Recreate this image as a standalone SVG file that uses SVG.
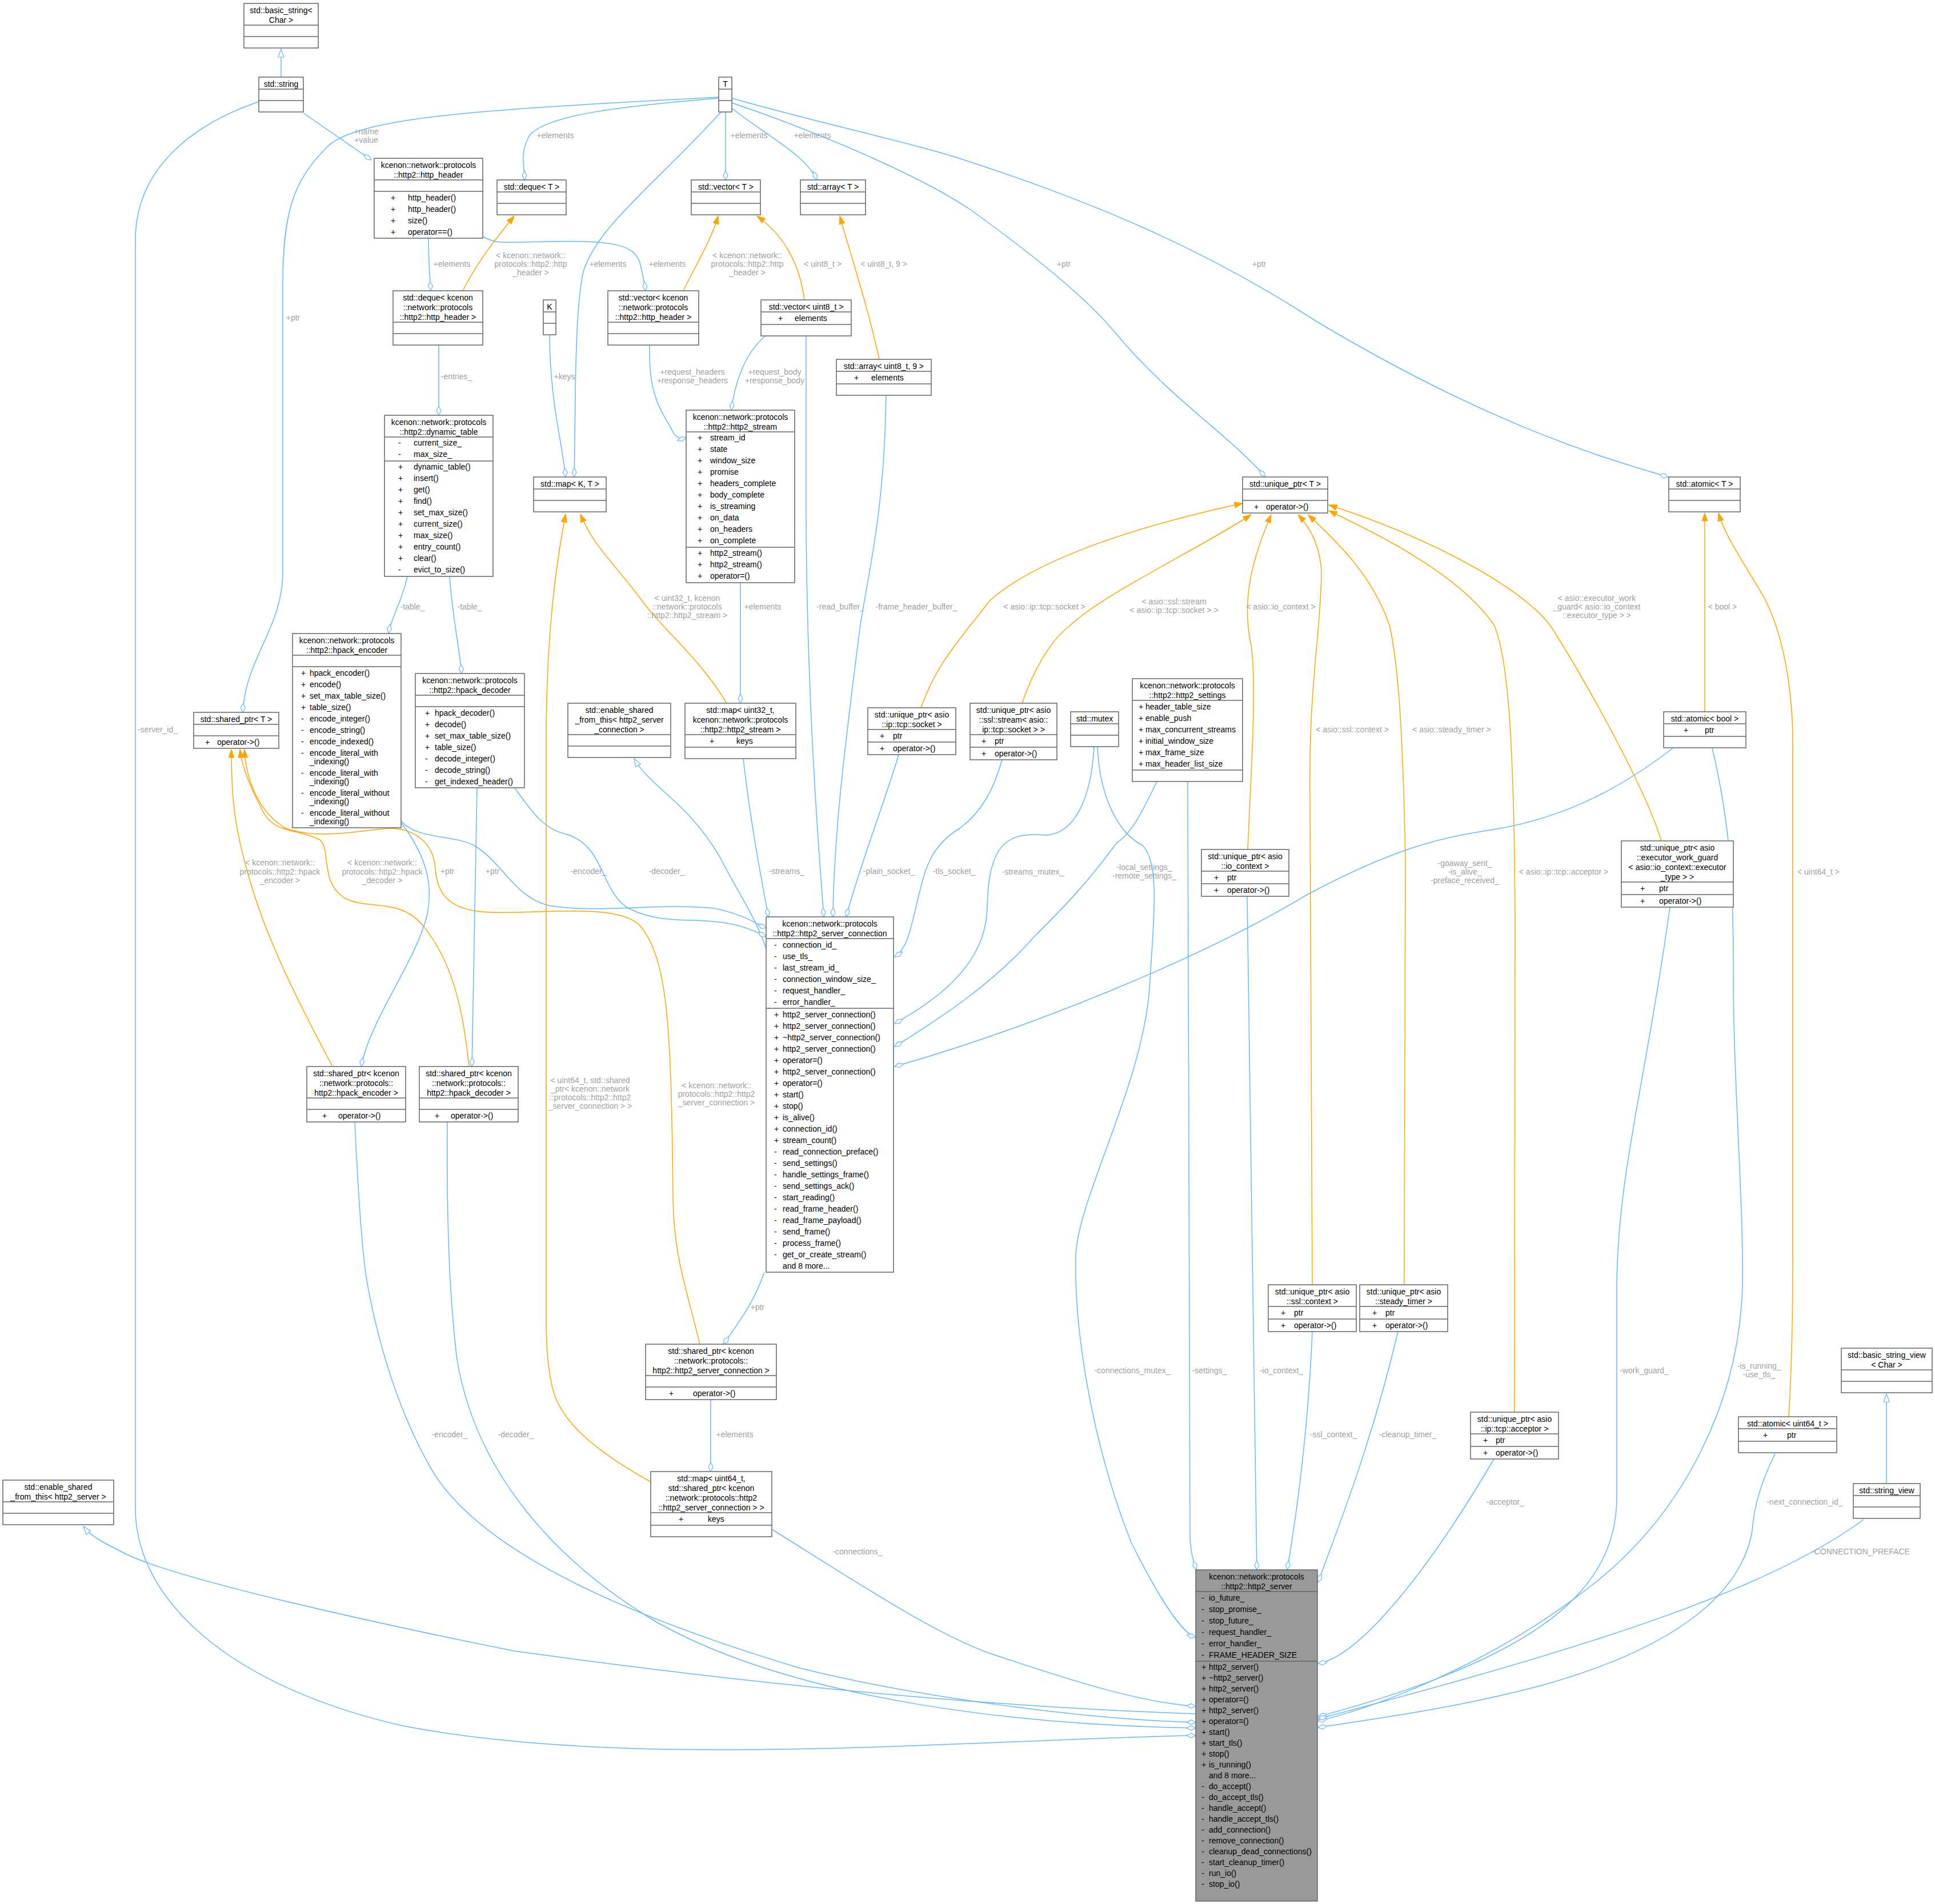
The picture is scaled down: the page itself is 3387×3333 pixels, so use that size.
<svg xmlns="http://www.w3.org/2000/svg" width="3387" height="3333" viewBox="0 0 3387 3333">
<style>
.bx{fill:#fff;stroke:#666;stroke-width:1.5}
.mb{fill:#999;stroke:#666;stroke-width:1.5}
.sp{stroke:#666;stroke-width:1.5}
text{font-family:"Liberation Sans",Arial,sans-serif;font-size:14px}
.t{fill:#000}
.c{text-anchor:middle}
.e{fill:none;stroke:#63b8ff;stroke-width:1.5}
.o{fill:none;stroke:#ffa500;stroke-width:1.5}
.l{fill:#a0a0a0;text-anchor:middle}
</style>
<defs>
<marker id="d" markerWidth="18" markerHeight="10" refX="17" refY="5" orient="auto" markerUnits="userSpaceOnUse"><path d="M1,5 L9,1 L17,5 L9,9 Z" fill="#fff" stroke="#63b8ff" stroke-width="1.2"/></marker>
<marker id="tri" markerWidth="16" markerHeight="12" refX="15" refY="6" orient="auto" markerUnits="userSpaceOnUse"><path d="M1,1 L15,6 L1,11 Z" fill="#fff" stroke="#63b8ff" stroke-width="1.2"/></marker>
<marker id="oa" markerWidth="16" markerHeight="12" refX="15" refY="6" orient="auto" markerUnits="userSpaceOnUse"><path d="M1,1 L15,6 L1,11 Z" fill="#ffa500" stroke="#ffa500" stroke-width="1"/></marker>
</defs>
<rect width="3387" height="3333" fill="#fff"/>

<g id="edges">
<path class="e" marker-end="url(#tri)" d="M492,135 L492,86"/>
<path class="e" marker-end="url(#d)" d="M531,198 L650,280"/>
<text class="l" x="641" y="235">+name</text><text class="l" x="641" y="250">+value</text>
<path class="e" marker-end="url(#d)" d="M453,178 C330,220 237,300 237,420 L237,2640 C237,2800 400,2950 700,3020 C1100,3100 1700,3045 2093,3038"/>
<text class="l" x="276" y="1282">-server_id_</text>
<path class="e" marker-end="url(#d)" d="M1258,170 C900,190 620,200 570,260 C510,320 495,380 495,500 L495,1000 C495,1100 430,1150 425,1247"/>
<text class="l" x="513" y="561">+ptr</text>
<path class="e" marker-end="url(#d)" d="M1258,172 C1100,185 950,200 925,240 C910,270 918,290 918,315"/>
<text class="l" x="972" y="242">+elements</text>
<path class="e" marker-end="url(#d)" d="M1262,196 C1150,320 1040,400 1020,480 C1005,560 1008,700 1005,835"/>
<text class="l" x="1064" y="467">+elements</text>
<path class="e" marker-end="url(#d)" d="M1270,196 L1270,315"/>
<text class="l" x="1311" y="242">+elements</text>
<path class="e" marker-end="url(#d)" d="M1282,190 C1330,230 1410,270 1430,315"/>
<text class="l" x="1422" y="242">+elements</text>
<path class="e" marker-end="url(#d)" d="M1281,180 C1400,220 1600,300 1700,368 C1800,440 1900,520 1950,580 C2050,700 2150,760 2215,835"/>
<text class="l" x="1862" y="467">+ptr</text>
<path class="e" marker-end="url(#d)" d="M1281,172 C1450,220 1600,250 1700,284 C1900,350 2100,430 2300,560 C2600,740 2800,800 2920,835"/>
<text class="l" x="2204" y="467">+ptr</text>
<path class="e" marker-end="url(#d)" d="M750,417 C750,460 752,480 754,509"/>
<text class="l" x="791" y="467">+elements</text>
<path class="e" marker-end="url(#d)" d="M845,414 C870,428 880,424 960,423 C1080,420 1110,430 1120,460 C1125,480 1128,495 1130,509"/>
<text class="l" x="1168" y="467">+elements</text>
<path class="e" marker-end="url(#d)" d="M962,586 C962,700 985,780 990,835"/>
<text class="l" x="988" y="664">+keys</text>
<path class="e" marker-end="url(#d)" d="M768,604 L768,727"/>
<text class="l" x="799" y="664">-entries_</text>
<path class="e" marker-end="url(#d)" d="M1137,604 C1135,700 1160,720 1180,760 C1190,770 1195,768 1201,766"/>
<text class="l" x="1212" y="656">+request_headers</text><text class="l" x="1212" y="671">+response_headers</text>
<path class="e" marker-end="url(#d)" d="M1340,588 C1300,620 1285,680 1280,718"/>
<text class="l" x="1356" y="656">+request_body</text><text class="l" x="1356" y="671">+response_body</text>
<path class="e" marker-end="url(#d)" d="M1411,588 L1411,900 C1412,1200 1430,1450 1442,1605"/>
<text class="l" x="1471" y="1067">-read_buffer_</text>
<path class="e" marker-end="url(#d)" d="M1551,692 C1548,900 1520,1000 1505,1100 C1480,1300 1460,1450 1458,1605"/>
<text class="l" x="1604" y="1067">-frame_header_buffer_</text>
<path class="e" marker-end="url(#d)" d="M713,1009 C705,1050 685,1080 680,1109"/>
<text class="l" x="722" y="1067">-table_</text>
<path class="e" marker-end="url(#d)" d="M787,1009 C792,1080 805,1140 808,1179"/>
<text class="l" x="822" y="1067">-table_</text>
<path class="e" marker-end="url(#d)" d="M1296,1020 L1296,1231"/>
<text class="l" x="1335" y="1067">+elements</text>

<path class="o" marker-end="url(#oa)" d="M582,1867 C520,1750 470,1650 440,1550 C410,1450 405,1400 405,1312"/>
<text class="l" x="490" y="1515">&lt; kcenon::network::</text><text class="l" x="490" y="1531">protocols::http2::hpack</text><text class="l" x="490" y="1546">_encoder &gt;</text>
<path class="o" marker-end="url(#oa)" d="M821,1867 C810,1760 790,1680 740,1620 C700,1570 640,1595 600,1570 C560,1540 580,1490 560,1470 C520,1450 480,1460 460,1420 C440,1380 425,1350 420,1312"/>
<text class="l" x="669" y="1515">&lt; kcenon::network::</text><text class="l" x="669" y="1531">protocols::http2::hpack</text><text class="l" x="669" y="1546">_decoder &gt;</text>
<path class="o" marker-end="url(#oa)" d="M1225,2353 C1200,2250 1180,2200 1178,2100 C1175,1800 1170,1680 1120,1620 C1080,1580 950,1600 860,1597 C780,1595 765,1560 762,1520 C758,1470 720,1450 680,1450 C620,1455 560,1470 500,1450 C450,1420 430,1360 428,1312"/>
<text class="l" x="1254" y="1905">&lt; kcenon::network::</text><text class="l" x="1254" y="1920">protocols::http2::http2</text><text class="l" x="1254" y="1935">_server_connection &gt;</text>
<path class="o" marker-end="url(#oa)" d="M1272,1231 C1230,1160 1170,1110 1130,1060 C1080,990 1040,960 1016,900"/>
<text class="l" x="1203" y="1052">&lt; uint32_t, kcenon</text><text class="l" x="1203" y="1067">::network::protocols</text><text class="l" x="1203" y="1082">::http2::http2_stream &gt;</text>
<path class="o" marker-end="url(#oa)" d="M1139,2594 C1060,2550 990,2500 970,2440 C958,2400 956,2350 956,2300 L956,1300 C956,1100 975,980 990,900"/>
<text class="l" x="1033" y="1896">&lt; uint64_t, std::shared</text><text class="l" x="1033" y="1911">_ptr&lt; kcenon::network</text><text class="l" x="1033" y="1926">::protocols::http2::http2</text><text class="l" x="1033" y="1941">_server_connection &gt; &gt;</text>
<path class="o" marker-end="url(#oa)" d="M810,509 C840,450 875,410 900,378"/>
<text class="l" x="929" y="452">&lt; kcenon::network::</text><text class="l" x="929" y="467">protocols::http2::http</text><text class="l" x="929" y="482">_header &gt;</text>
<path class="o" marker-end="url(#oa)" d="M1196,509 C1220,460 1245,420 1257,378"/>
<text class="l" x="1308" y="452">&lt; kcenon::network::</text><text class="l" x="1308" y="467">protocols::http2::http</text><text class="l" x="1308" y="482">_header &gt;</text>
<path class="o" marker-end="url(#oa)" d="M1408,525 C1400,460 1370,410 1325,378"/>
<text class="l" x="1440" y="467">&lt; uint8_t &gt;</text>
<path class="o" marker-end="url(#oa)" d="M1539,629 C1520,540 1490,450 1470,378"/>
<text class="l" x="1547" y="467">&lt; uint8_t, 9 &gt;</text>
<path class="o" marker-end="url(#oa)" d="M1612,1239 C1640,1160 1680,1120 1732,1052 C1800,990 1950,930 2175,881"/>
<text class="l" x="1828" y="1067">&lt; asio::ip::tcp::socket &gt;</text>
<path class="o" marker-end="url(#oa)" d="M1789,1231 C1810,1170 1840,1120 1872,1096 C1930,1040 2100,960 2190,901"/>
<text class="l" x="2055" y="1058">&lt; asio::ssl::stream</text><text class="l" x="2055" y="1073">&lt; asio::ip::tcp::socket &gt; &gt;</text>
<path class="o" marker-end="url(#oa)" d="M2184,1487 C2190,1350 2200,1200 2190,1130 C2170,1040 2200,960 2225,901"/>
<text class="l" x="2242" y="1067">&lt; asio::io_context &gt;</text>
<path class="o" marker-end="url(#oa)" d="M2297,2249 L2293,1400 C2290,1200 2313,1100 2313,1000 C2310,950 2290,920 2272,901"/>
<text class="l" x="2367" y="1282">&lt; asio::ssl::context &gt;</text>
<path class="o" marker-end="url(#oa)" d="M2458,2249 L2460,1500 C2455,1250 2445,1150 2432,1094 C2400,1000 2330,940 2290,901"/>
<text class="l" x="2541" y="1282">&lt; asio::steady_timer &gt;</text>
<path class="o" marker-end="url(#oa)" d="M2651,2472 L2652,1600 C2650,1300 2640,1150 2615,1094 C2550,1000 2400,930 2326,894"/>
<text class="l" x="2737" y="1531">&lt; asio::ip::tcp::acceptor &gt;</text>
<path class="o" marker-end="url(#oa)" d="M2908,1472 C2880,1380 2780,1200 2717,1100 C2670,1030 2500,940 2326,884"/>
<text class="l" x="2795" y="1052">&lt; asio::executor_work</text><text class="l" x="2795" y="1067">_guard&lt; asio::io_context</text><text class="l" x="2795" y="1082">::executor_type &gt; &gt;</text>
<path class="o" marker-end="url(#oa)" d="M2984,1246 L2984,898"/>
<text class="l" x="3015" y="1067">&lt; bool &gt;</text>
<path class="o" marker-end="url(#oa)" d="M3131,2480 C3136,2400 3138,2300 3138,2200 L3138,1300 C3138,1200 3120,1110 3090,1050 C3050,980 3020,940 3008,898"/>
<text class="l" x="3183" y="1531">&lt; uint64_t &gt;</text>
<path class="e" marker-end="url(#tri)" d="M3302,2597 L3302,2440"/>

<path class="e" marker-end="url(#tri)" d="M1341,1660 C1320,1600 1290,1560 1260,1500 C1200,1400 1140,1380 1110,1328"/>
<path class="e" marker-end="url(#d)" d="M702,1437 C730,1470 790,1460 830,1480 C880,1510 900,1570 960,1585 C1050,1600 1150,1580 1250,1590 C1300,1600 1320,1615 1341,1625"/>
<text class="l" x="1030" y="1530">-encoder_</text>
<path class="e" marker-end="url(#d)" d="M900,1378 C930,1420 950,1450 990,1460 C1060,1480 1050,1560 1100,1590 C1180,1630 1250,1590 1341,1640"/>
<text class="l" x="1167" y="1530">-decoder_</text>
<path class="e" marker-end="url(#d)" d="M1301,1328 C1315,1450 1335,1550 1345,1605"/>
<text class="l" x="1377" y="1530">-streams_</text>
<path class="e" marker-end="url(#d)" d="M1573,1321 C1550,1400 1510,1500 1481,1605"/>
<text class="l" x="1556" y="1530">-plain_socket_</text>
<path class="e" marker-end="url(#d)" d="M1754,1330 C1740,1380 1720,1420 1680,1450 C1630,1480 1620,1520 1610,1560 C1595,1620 1590,1660 1566,1675"/>
<text class="l" x="1670" y="1530">-tls_socket_</text>
<path class="e" marker-end="url(#d)" d="M1915,1307 C1910,1400 1880,1460 1830,1462 C1760,1455 1730,1480 1728,1590 C1725,1700 1620,1760 1566,1792"/>
<text class="l" x="1808" y="1531">-streams_mutex_</text>
<path class="e" marker-end="url(#d)" d="M2025,1368 C2000,1420 1980,1460 1955,1475 C1900,1550 1860,1590 1810,1640 C1740,1720 1650,1780 1566,1832"/>
<text class="l" x="2003" y="1523">-local_settings_</text><text class="l" x="2003" y="1538">-remote_settings_</text>
<path class="e" marker-end="url(#d)" d="M2929,1309 C2850,1370 2750,1430 2615,1452 C2530,1465 2450,1480 2290,1565 C2100,1680 1800,1800 1566,1867"/>
<text class="l" x="2564" y="1516">-goaway_sent_</text><text class="l" x="2564" y="1531">-is_alive_</text><text class="l" x="2564" y="1546">-preface_received_</text>
<path class="e" marker-end="url(#d)" d="M1338,2227 C1320,2280 1290,2320 1266,2353"/>
<text class="l" x="1326" y="2293">+ptr</text>
<path class="e" marker-end="url(#d)" d="M1244,2450 L1244,2576"/>
<text class="l" x="1286" y="2516">+elements</text>
<path class="e" marker-end="url(#d)" d="M702,1440 C740,1490 760,1540 748,1600 C730,1680 650,1780 632,1867"/>
<text class="l" x="783" y="1530">+ptr</text>
<path class="e" marker-end="url(#d)" d="M835,1378 L826,1867"/>
<text class="l" x="862" y="1530">+ptr</text>

<path class="e" marker-end="url(#tri)" d="M2093,3000 C1800,2990 1400,2960 900,2890 C600,2830 300,2760 220,2720 C180,2700 160,2690 146,2672"/>
<path class="e" marker-end="url(#d)" d="M621,1964 C625,2050 630,2150 640,2230 C660,2350 700,2480 760,2580 C850,2720 1100,2830 1400,2920 C1600,2970 1900,3010 2093,3015"/>
<text class="l" x="787" y="2516">-encoder_</text>
<path class="e" marker-end="url(#d)" d="M783,1964 C782,2100 784,2250 800,2380 C830,2560 950,2720 1150,2840 C1400,2980 1800,3020 2093,3025"/>
<text class="l" x="903" y="2516">-decoder_</text>
<path class="e" marker-end="url(#d)" d="M1351,2677 C1500,2770 1650,2870 1750,2900 C1900,2950 2000,2980 2093,2987"/>
<text class="l" x="1501" y="2721">-connections_</text>
<path class="e" marker-end="url(#d)" d="M1921,1307 C1925,1400 1960,1460 2000,1480 C2030,1510 2020,1600 2012,1730 C2000,1900 1885,2100 1883,2200 C1880,2350 1920,2550 1980,2700 C2030,2800 2070,2860 2093,2866"/>
<text class="l" x="1982" y="2404">-connections_mutex_</text>
<path class="e" marker-end="url(#d)" d="M2079,1368 L2083,2690 C2084,2720 2090,2735 2094,2748"/>
<text class="l" x="2117" y="2404">-settings_</text>
<path class="e" marker-end="url(#d)" d="M2183,1569 L2200,2748"/>
<text class="l" x="2243" y="2404">-io_context_</text>
<path class="e" marker-end="url(#d)" d="M2297,2331 C2290,2500 2270,2650 2253,2748"/>
<text class="l" x="2334" y="2516">-ssl_context_</text>
<path class="e" marker-end="url(#d)" d="M2447,2331 C2400,2530 2340,2680 2307,2770"/>
<text class="l" x="2464" y="2516">-cleanup_timer_</text>
<path class="e" marker-end="url(#d)" d="M2615,2554 C2500,2750 2380,2900 2307,2912"/>
<text class="l" x="2635" y="2634">-acceptor_</text>
<path class="e" marker-end="url(#d)" d="M2923,1588 C2880,1900 2832,2050 2830,2250 L2830,2620 C2830,2780 2700,2900 2307,3005"/>
<text class="l" x="2878" y="2404">-work_guard_</text>
<path class="e" marker-end="url(#d)" d="M2997,1309 C3030,1450 3034,1550 3034,1700 C3034,1900 3052,2100 3050,2250 C3045,2450 2950,2650 2780,2780 C2600,2920 2400,2990 2307,3013"/>
<text class="l" x="3079" y="2396">-is_running_</text><text class="l" x="3079" y="2411">-use_tls_</text>
<path class="e" marker-end="url(#d)" d="M3107,2545 C3080,2600 3070,2640 3067,2680 C3050,2780 2950,2880 2700,2950 C2550,2990 2400,3010 2307,3024"/>
<text class="l" x="3159" y="2634">-next_connection_id_</text>
<path class="e" marker-end="url(#d)" d="M3262,2660 C3100,2780 2800,2880 2307,3009"/>
<text class="l" x="3257" y="2721">-CONNECTION_PREFACE</text>
</g>

<g id="basic_string"><rect class="bx" x="427" y="6" width="130" height="78"/><line class="sp" x1="427" y1="44" x2="557" y2="44"/><line class="sp" x1="427" y1="64" x2="557" y2="64"/><text class="t c" x="492" y="23">std::basic_string&lt;</text><text class="t c" x="492" y="40">Char &gt;</text></g>
<g id="string"><rect class="bx" x="453" y="135" width="78" height="61"/><line class="sp" x1="453" y1="156" x2="531" y2="156"/><line class="sp" x1="453" y1="176" x2="531" y2="176"/><text class="t c" x="492" y="152">std::string</text></g>
<g id="T"><rect class="bx" x="1258" y="135" width="23" height="61"/><line class="sp" x1="1258" y1="156" x2="1281" y2="156"/><line class="sp" x1="1258" y1="176" x2="1281" y2="176"/><text class="t c" x="1269.5" y="152">T</text></g>
<g id="http_header"><rect class="bx" x="655" y="277" width="190" height="140"/><line class="sp" x1="655" y1="315" x2="845" y2="315"/><line class="sp" x1="655" y1="335" x2="845" y2="335"/><text class="t c" x="750" y="294">kcenon::network::protocols</text><text class="t c" x="750" y="311">::http2::http_header</text>
<text class="t" x="684" y="351">+</text><text class="t" x="714" y="351">http_header()</text><text class="t" x="684" y="371">+</text><text class="t" x="714" y="371">http_header()</text><text class="t" x="684" y="391">+</text><text class="t" x="714" y="391">size()</text><text class="t" x="684" y="411">+</text><text class="t" x="714" y="411">operator==()</text></g>
<g id="deque_T"><rect class="bx" x="870" y="315" width="121" height="61"/><line class="sp" x1="870" y1="336" x2="991" y2="336"/><line class="sp" x1="870" y1="356" x2="991" y2="356"/><text class="t c" x="930.5" y="332">std::deque&lt; T &gt;</text></g>
<g id="vector_T"><rect class="bx" x="1210" y="315" width="121" height="61"/><line class="sp" x1="1210" y1="336" x2="1331" y2="336"/><line class="sp" x1="1210" y1="356" x2="1331" y2="356"/><text class="t c" x="1270.5" y="332">std::vector&lt; T &gt;</text></g>
<g id="array_T"><rect class="bx" x="1401" y="315" width="114" height="61"/><line class="sp" x1="1401" y1="336" x2="1515" y2="336"/><line class="sp" x1="1401" y1="356" x2="1515" y2="356"/><text class="t c" x="1458" y="332">std::array&lt; T &gt;</text></g>
<g id="deque_hh"><rect class="bx" x="688" y="509" width="157" height="95"/><line class="sp" x1="688" y1="564" x2="845" y2="564"/><line class="sp" x1="688" y1="584" x2="845" y2="584"/><text class="t c" x="766.5" y="526">std::deque&lt; kcenon</text><text class="t c" x="766.5" y="543">::network::protocols</text><text class="t c" x="766.5" y="560">::http2::http_header &gt;</text></g>
<g id="K"><rect class="bx" x="951" y="525" width="22" height="61"/><line class="sp" x1="951" y1="546" x2="973" y2="546"/><line class="sp" x1="951" y1="566" x2="973" y2="566"/><text class="t c" x="962" y="542">K</text></g>
<g id="vector_hh"><rect class="bx" x="1064" y="509" width="159" height="95"/><line class="sp" x1="1064" y1="564" x2="1223" y2="564"/><line class="sp" x1="1064" y1="584" x2="1223" y2="584"/><text class="t c" x="1143.5" y="526">std::vector&lt; kcenon</text><text class="t c" x="1143.5" y="543">::network::protocols</text><text class="t c" x="1143.5" y="560">::http2::http_header &gt;</text></g>
<g id="vector_u8"><rect class="bx" x="1332" y="525" width="158" height="63"/><line class="sp" x1="1332" y1="546" x2="1490" y2="546"/><line class="sp" x1="1332" y1="568" x2="1490" y2="568"/><text class="t c" x="1411" y="542">std::vector&lt; uint8_t &gt;</text><text class="t" x="1362" y="562">+</text><text class="t" x="1391" y="562">elements</text></g>
<g id="array_u8_9"><rect class="bx" x="1464" y="629" width="166" height="63"/><line class="sp" x1="1464" y1="650" x2="1630" y2="650"/><line class="sp" x1="1464" y1="672" x2="1630" y2="672"/><text class="t c" x="1547" y="646">std::array&lt; uint8_t, 9 &gt;</text><text class="t" x="1495" y="666">+</text><text class="t" x="1525" y="666">elements</text></g>
<g id="dynamic_table"><rect class="bx" x="673" y="727" width="190" height="282"/><line class="sp" x1="673" y1="765" x2="863" y2="765"/><line class="sp" x1="673" y1="807" x2="863" y2="807"/><text class="t c" x="768" y="744">kcenon::network::protocols</text><text class="t c" x="768" y="761">::http2::dynamic_table</text>
<text class="t" x="697" y="780">-</text><text class="t" x="724" y="780">current_size_</text><text class="t" x="697" y="800">-</text><text class="t" x="724" y="800">max_size_</text>
<text class="t" x="697" y="822">+</text><text class="t" x="724" y="822">dynamic_table()</text><text class="t" x="697" y="842">+</text><text class="t" x="724" y="842">insert()</text><text class="t" x="697" y="862">+</text><text class="t" x="724" y="862">get()</text><text class="t" x="697" y="882">+</text><text class="t" x="724" y="882">find()</text><text class="t" x="697" y="902">+</text><text class="t" x="724" y="902">set_max_size()</text><text class="t" x="697" y="922">+</text><text class="t" x="724" y="922">current_size()</text><text class="t" x="697" y="942">+</text><text class="t" x="724" y="942">max_size()</text><text class="t" x="697" y="962">+</text><text class="t" x="724" y="962">entry_count()</text><text class="t" x="697" y="982">+</text><text class="t" x="724" y="982">clear()</text><text class="t" x="697" y="1002">-</text><text class="t" x="724" y="1002">evict_to_size()</text></g>
<g id="map_KT"><rect class="bx" x="934" y="835" width="127" height="61"/><line class="sp" x1="934" y1="856" x2="1061" y2="856"/><line class="sp" x1="934" y1="876" x2="1061" y2="876"/><text class="t c" x="997.5" y="852">std::map&lt; K, T &gt;</text></g>
<g id="http2_stream"><rect class="bx" x="1201" y="718" width="190" height="302"/><line class="sp" x1="1201" y1="756" x2="1391" y2="756"/><line class="sp" x1="1201" y1="958" x2="1391" y2="958"/><text class="t c" x="1296" y="735">kcenon::network::protocols</text><text class="t c" x="1296" y="752">::http2::http2_stream</text>
<text class="t" x="1221" y="771">+</text><text class="t" x="1243" y="771">stream_id</text><text class="t" x="1221" y="791">+</text><text class="t" x="1243" y="791">state</text><text class="t" x="1221" y="811">+</text><text class="t" x="1243" y="811">window_size</text><text class="t" x="1221" y="831">+</text><text class="t" x="1243" y="831">promise</text><text class="t" x="1221" y="851">+</text><text class="t" x="1243" y="851">headers_complete</text><text class="t" x="1221" y="871">+</text><text class="t" x="1243" y="871">body_complete</text><text class="t" x="1221" y="891">+</text><text class="t" x="1243" y="891">is_streaming</text><text class="t" x="1221" y="911">+</text><text class="t" x="1243" y="911">on_data</text><text class="t" x="1221" y="931">+</text><text class="t" x="1243" y="931">on_headers</text><text class="t" x="1221" y="951">+</text><text class="t" x="1243" y="951">on_complete</text>
<text class="t" x="1221" y="973">+</text><text class="t" x="1243" y="973">http2_stream()</text><text class="t" x="1221" y="993">+</text><text class="t" x="1243" y="993">http2_stream()</text><text class="t" x="1221" y="1013">+</text><text class="t" x="1243" y="1013">operator=()</text></g>
<g id="unique_ptr_T"><rect class="bx" x="2175" y="835" width="149" height="63"/><line class="sp" x1="2175" y1="856" x2="2324" y2="856"/><line class="sp" x1="2175" y1="876" x2="2324" y2="876"/><text class="t c" x="2249.5" y="852">std::unique_ptr&lt; T &gt;</text><text class="t" x="2195" y="892">+</text><text class="t" x="2216" y="892">operator-&gt;()</text></g>
<g id="atomic_T"><rect class="bx" x="2921" y="835" width="125" height="61"/><line class="sp" x1="2921" y1="856" x2="3046" y2="856"/><line class="sp" x1="2921" y1="876" x2="3046" y2="876"/><text class="t c" x="2983.5" y="852">std::atomic&lt; T &gt;</text></g>
<g id="hpack_encoder"><rect class="bx" x="512" y="1109" width="190" height="340"/><line class="sp" x1="512" y1="1147" x2="702" y2="1147"/><line class="sp" x1="512" y1="1167" x2="702" y2="1167"/><text class="t c" x="607" y="1126">kcenon::network::protocols</text><text class="t c" x="607" y="1143">::http2::hpack_encoder</text>
<text class="t" x="527" y="1183">+</text><text class="t" x="542" y="1183">hpack_encoder()</text><text class="t" x="527" y="1203">+</text><text class="t" x="542" y="1203">encode()</text><text class="t" x="527" y="1223">+</text><text class="t" x="542" y="1223">set_max_table_size()</text><text class="t" x="527" y="1243">+</text><text class="t" x="542" y="1243">table_size()</text><text class="t" x="527" y="1263">-</text><text class="t" x="542" y="1263">encode_integer()</text><text class="t" x="527" y="1283">-</text><text class="t" x="542" y="1283">encode_string()</text><text class="t" x="527" y="1303">-</text><text class="t" x="542" y="1303">encode_indexed()</text>
<text class="t" x="527" y="1323">-</text><text class="t" x="542" y="1323">encode_literal_with</text><text class="t" x="542" y="1338">_indexing()</text><text class="t" x="527" y="1358">-</text><text class="t" x="542" y="1358">encode_literal_with</text><text class="t" x="542" y="1373">_indexing()</text><text class="t" x="527" y="1393">-</text><text class="t" x="542" y="1393">encode_literal_without</text><text class="t" x="542" y="1408">_indexing()</text><text class="t" x="527" y="1428">-</text><text class="t" x="542" y="1428">encode_literal_without</text><text class="t" x="542" y="1443">_indexing()</text></g>
<g id="shared_ptr_T"><rect class="bx" x="339" y="1247" width="149" height="63"/><line class="sp" x1="339" y1="1268" x2="488" y2="1268"/><line class="sp" x1="339" y1="1288" x2="488" y2="1288"/><text class="t c" x="413.5" y="1264">std::shared_ptr&lt; T &gt;</text><text class="t" x="359" y="1304">+</text><text class="t" x="380" y="1304">operator-&gt;()</text></g>
<g id="hpack_decoder"><rect class="bx" x="727" y="1179" width="191" height="200"/><line class="sp" x1="727" y1="1217" x2="918" y2="1217"/><line class="sp" x1="727" y1="1237" x2="918" y2="1237"/><text class="t c" x="822.5" y="1196">kcenon::network::protocols</text><text class="t c" x="822.5" y="1213">::http2::hpack_decoder</text>
<text class="t" x="744" y="1253">+</text><text class="t" x="761" y="1253">hpack_decoder()</text><text class="t" x="744" y="1273">+</text><text class="t" x="761" y="1273">decode()</text><text class="t" x="744" y="1293">+</text><text class="t" x="761" y="1293">set_max_table_size()</text><text class="t" x="744" y="1313">+</text><text class="t" x="761" y="1313">table_size()</text><text class="t" x="744" y="1333">-</text><text class="t" x="761" y="1333">decode_integer()</text><text class="t" x="744" y="1353">-</text><text class="t" x="761" y="1353">decode_string()</text><text class="t" x="744" y="1373">-</text><text class="t" x="761" y="1373">get_indexed_header()</text></g>
<g id="esft_conn"><rect class="bx" x="994" y="1231" width="180" height="95"/><line class="sp" x1="994" y1="1286" x2="1174" y2="1286"/><line class="sp" x1="994" y1="1306" x2="1174" y2="1306"/><text class="t c" x="1084" y="1248">std::enable_shared</text><text class="t c" x="1084" y="1265">_from_this&lt; http2_server</text><text class="t c" x="1084" y="1282">_connection &gt;</text></g>
<g id="map_u32"><rect class="bx" x="1199" y="1231" width="194" height="97"/><line class="sp" x1="1199" y1="1286" x2="1393" y2="1286"/><line class="sp" x1="1199" y1="1308" x2="1393" y2="1308"/><text class="t c" x="1296" y="1248">std::map&lt; uint32_t,</text><text class="t c" x="1296" y="1265">kcenon::network::protocols</text><text class="t c" x="1296" y="1282">::http2::http2_stream &gt;</text><text class="t" x="1242" y="1302">+</text><text class="t" x="1289" y="1302">keys</text></g>
<g id="up_socket"><rect class="bx" x="1519" y="1239" width="154" height="82"/><line class="sp" x1="1519" y1="1277" x2="1673" y2="1277"/><line class="sp" x1="1519" y1="1299" x2="1673" y2="1299"/><text class="t c" x="1596" y="1256">std::unique_ptr&lt; asio</text><text class="t c" x="1596" y="1273">::ip::tcp::socket &gt;</text><text class="t" x="1540" y="1293">+</text><text class="t" x="1563" y="1293">ptr</text><text class="t" x="1540" y="1315">+</text><text class="t" x="1563" y="1315">operator-&gt;()</text></g>
<g id="up_ssl_stream"><rect class="bx" x="1698" y="1231" width="152" height="99"/><line class="sp" x1="1698" y1="1286" x2="1850" y2="1286"/><line class="sp" x1="1698" y1="1308" x2="1850" y2="1308"/><text class="t c" x="1774" y="1248">std::unique_ptr&lt; asio</text><text class="t c" x="1774" y="1265">::ssl::stream&lt; asio::</text><text class="t c" x="1774" y="1282">ip::tcp::socket &gt; &gt;</text><text class="t" x="1718" y="1302">+</text><text class="t" x="1741" y="1302">ptr</text><text class="t" x="1718" y="1324">+</text><text class="t" x="1741" y="1324">operator-&gt;()</text></g>
<g id="mutex"><rect class="bx" x="1874" y="1246" width="84" height="61"/><line class="sp" x1="1874" y1="1267" x2="1958" y2="1267"/><line class="sp" x1="1874" y1="1287" x2="1958" y2="1287"/><text class="t c" x="1916" y="1263">std::mutex</text></g>
<g id="http2_settings"><rect class="bx" x="1982" y="1188" width="193" height="180"/><line class="sp" x1="1982" y1="1226" x2="2175" y2="1226"/><line class="sp" x1="1982" y1="1348" x2="2175" y2="1348"/><text class="t c" x="2078.5" y="1205">kcenon::network::protocols</text><text class="t c" x="2078.5" y="1222">::http2::http2_settings</text>
<text class="t" x="1993" y="1242">+</text><text class="t" x="2005" y="1242">header_table_size</text><text class="t" x="1993" y="1262">+</text><text class="t" x="2005" y="1262">enable_push</text><text class="t" x="1993" y="1282">+</text><text class="t" x="2005" y="1282">max_concurrent_streams</text><text class="t" x="1993" y="1302">+</text><text class="t" x="2005" y="1302">initial_window_size</text><text class="t" x="1993" y="1322">+</text><text class="t" x="2005" y="1322">max_frame_size</text><text class="t" x="1993" y="1342">+</text><text class="t" x="2005" y="1342">max_header_list_size</text></g>
<g id="up_io_context"><rect class="bx" x="2103" y="1487" width="153" height="82"/><line class="sp" x1="2103" y1="1525" x2="2256" y2="1525"/><line class="sp" x1="2103" y1="1547" x2="2256" y2="1547"/><text class="t c" x="2179.5" y="1504">std::unique_ptr&lt; asio</text><text class="t c" x="2179.5" y="1521">::io_context &gt;</text><text class="t" x="2125" y="1541">+</text><text class="t" x="2148" y="1541">ptr</text><text class="t" x="2125" y="1563">+</text><text class="t" x="2148" y="1563">operator-&gt;()</text></g>
<g id="atomic_bool"><rect class="bx" x="2912" y="1246" width="144" height="63"/><line class="sp" x1="2912" y1="1267" x2="3056" y2="1267"/><line class="sp" x1="2912" y1="1289" x2="3056" y2="1289"/><text class="t c" x="2984" y="1263">std::atomic&lt; bool &gt;</text><text class="t" x="2947" y="1283">+</text><text class="t" x="2984" y="1283">ptr</text></g>
<g id="up_work_guard"><rect class="bx" x="2838" y="1472" width="196" height="116"/><line class="sp" x1="2838" y1="1544" x2="3034" y2="1544"/><line class="sp" x1="2838" y1="1566" x2="3034" y2="1566"/><text class="t c" x="2936" y="1489">std::unique_ptr&lt; asio</text><text class="t c" x="2936" y="1506">::executor_work_guard</text><text class="t c" x="2936" y="1523">&lt; asio::io_context::executor</text><text class="t c" x="2936" y="1540">_type &gt; &gt;</text><text class="t" x="2871" y="1560">+</text><text class="t" x="2904" y="1560">ptr</text><text class="t" x="2871" y="1582">+</text><text class="t" x="2904" y="1582">operator-&gt;()</text></g>
<g id="http2_server_connection"><rect class="bx" x="1341" y="1605" width="223" height="622"/><line class="sp" x1="1341" y1="1643" x2="1564" y2="1643"/><line class="sp" x1="1341" y1="1765" x2="1564" y2="1765"/><text class="t c" x="1452.5" y="1622">kcenon::network::protocols</text><text class="t c" x="1452.5" y="1639">::http2::http2_server_connection</text>
<text class="t" x="1355" y="1659">-</text><text class="t" x="1370" y="1659">connection_id_</text><text class="t" x="1355" y="1679">-</text><text class="t" x="1370" y="1679">use_tls_</text><text class="t" x="1355" y="1699">-</text><text class="t" x="1370" y="1699">last_stream_id_</text><text class="t" x="1355" y="1719">-</text><text class="t" x="1370" y="1719">connection_window_size_</text><text class="t" x="1355" y="1739">-</text><text class="t" x="1370" y="1739">request_handler_</text><text class="t" x="1355" y="1759">-</text><text class="t" x="1370" y="1759">error_handler_</text>
<text class="t" x="1355" y="1781">+</text><text class="t" x="1370" y="1781">http2_server_connection()</text><text class="t" x="1355" y="1801">+</text><text class="t" x="1370" y="1801">http2_server_connection()</text><text class="t" x="1355" y="1821">+</text><text class="t" x="1370" y="1821">~http2_server_connection()</text><text class="t" x="1355" y="1841">+</text><text class="t" x="1370" y="1841">http2_server_connection()</text><text class="t" x="1355" y="1861">+</text><text class="t" x="1370" y="1861">operator=()</text><text class="t" x="1355" y="1881">+</text><text class="t" x="1370" y="1881">http2_server_connection()</text><text class="t" x="1355" y="1901">+</text><text class="t" x="1370" y="1901">operator=()</text><text class="t" x="1355" y="1921">+</text><text class="t" x="1370" y="1921">start()</text><text class="t" x="1355" y="1941">+</text><text class="t" x="1370" y="1941">stop()</text><text class="t" x="1355" y="1961">+</text><text class="t" x="1370" y="1961">is_alive()</text><text class="t" x="1355" y="1981">+</text><text class="t" x="1370" y="1981">connection_id()</text><text class="t" x="1355" y="2001">+</text><text class="t" x="1370" y="2001">stream_count()</text><text class="t" x="1355" y="2021">-</text><text class="t" x="1370" y="2021">read_connection_preface()</text><text class="t" x="1355" y="2041">-</text><text class="t" x="1370" y="2041">send_settings()</text><text class="t" x="1355" y="2061">-</text><text class="t" x="1370" y="2061">handle_settings_frame()</text><text class="t" x="1355" y="2081">-</text><text class="t" x="1370" y="2081">send_settings_ack()</text><text class="t" x="1355" y="2101">-</text><text class="t" x="1370" y="2101">start_reading()</text><text class="t" x="1355" y="2121">-</text><text class="t" x="1370" y="2121">read_frame_header()</text><text class="t" x="1355" y="2141">-</text><text class="t" x="1370" y="2141">read_frame_payload()</text><text class="t" x="1355" y="2161">-</text><text class="t" x="1370" y="2161">send_frame()</text><text class="t" x="1355" y="2181">-</text><text class="t" x="1370" y="2181">process_frame()</text><text class="t" x="1355" y="2201">-</text><text class="t" x="1370" y="2201">get_or_create_stream()</text><text class="t" x="1370" y="2221">and 8 more...</text></g>
<g id="sp_encoder"><rect class="bx" x="537" y="1867" width="173" height="97"/><line class="sp" x1="537" y1="1922" x2="710" y2="1922"/><line class="sp" x1="537" y1="1942" x2="710" y2="1942"/><text class="t c" x="623.5" y="1884">std::shared_ptr&lt; kcenon</text><text class="t c" x="623.5" y="1901">::network::protocols::</text><text class="t c" x="623.5" y="1918">http2::hpack_encoder &gt;</text><text class="t" x="564" y="1958">+</text><text class="t" x="592" y="1958">operator-&gt;()</text></g>
<g id="sp_decoder"><rect class="bx" x="734" y="1867" width="173" height="97"/><line class="sp" x1="734" y1="1922" x2="907" y2="1922"/><line class="sp" x1="734" y1="1942" x2="907" y2="1942"/><text class="t c" x="820.5" y="1884">std::shared_ptr&lt; kcenon</text><text class="t c" x="820.5" y="1901">::network::protocols::</text><text class="t c" x="820.5" y="1918">http2::hpack_decoder &gt;</text><text class="t" x="761" y="1958">+</text><text class="t" x="789" y="1958">operator-&gt;()</text></g>
<g id="sp_conn"><rect class="bx" x="1130" y="2353" width="229" height="97"/><line class="sp" x1="1130" y1="2408" x2="1359" y2="2408"/><line class="sp" x1="1130" y1="2428" x2="1359" y2="2428"/><text class="t c" x="1244.5" y="2370">std::shared_ptr&lt; kcenon</text><text class="t c" x="1244.5" y="2387">::network::protocols::</text><text class="t c" x="1244.5" y="2404">http2::http2_server_connection &gt;</text><text class="t" x="1171" y="2444">+</text><text class="t" x="1213" y="2444">operator-&gt;()</text></g>
<g id="map_u64"><rect class="bx" x="1139" y="2576" width="212" height="114"/><line class="sp" x1="1139" y1="2648" x2="1351" y2="2648"/><line class="sp" x1="1139" y1="2670" x2="1351" y2="2670"/><text class="t c" x="1245" y="2593">std::map&lt; uint64_t,</text><text class="t c" x="1245" y="2610">std::shared_ptr&lt; kcenon</text><text class="t c" x="1245" y="2627">::network::protocols::http2</text><text class="t c" x="1245" y="2644">::http2_server_connection &gt; &gt;</text><text class="t" x="1188" y="2664">+</text><text class="t" x="1239" y="2664">keys</text></g>
<g id="esft_server"><rect class="bx" x="5" y="2591" width="194" height="78"/><line class="sp" x1="5" y1="2629" x2="199" y2="2629"/><line class="sp" x1="5" y1="2649" x2="199" y2="2649"/><text class="t c" x="102" y="2608">std::enable_shared</text><text class="t c" x="102" y="2625">_from_this&lt; http2_server &gt;</text></g>
<g id="up_ssl_context"><rect class="bx" x="2220" y="2249" width="154" height="82"/><line class="sp" x1="2220" y1="2287" x2="2374" y2="2287"/><line class="sp" x1="2220" y1="2309" x2="2374" y2="2309"/><text class="t c" x="2297" y="2266">std::unique_ptr&lt; asio</text><text class="t c" x="2297" y="2283">::ssl::context &gt;</text><text class="t" x="2242" y="2303">+</text><text class="t" x="2265" y="2303">ptr</text><text class="t" x="2242" y="2325">+</text><text class="t" x="2265" y="2325">operator-&gt;()</text></g>
<g id="up_steady_timer"><rect class="bx" x="2380" y="2249" width="154" height="82"/><line class="sp" x1="2380" y1="2287" x2="2534" y2="2287"/><line class="sp" x1="2380" y1="2309" x2="2534" y2="2309"/><text class="t c" x="2457" y="2266">std::unique_ptr&lt; asio</text><text class="t c" x="2457" y="2283">::steady_timer &gt;</text><text class="t" x="2402" y="2303">+</text><text class="t" x="2425" y="2303">ptr</text><text class="t" x="2402" y="2325">+</text><text class="t" x="2425" y="2325">operator-&gt;()</text></g>
<g id="up_acceptor"><rect class="bx" x="2574" y="2472" width="154" height="82"/><line class="sp" x1="2574" y1="2510" x2="2728" y2="2510"/><line class="sp" x1="2574" y1="2532" x2="2728" y2="2532"/><text class="t c" x="2651" y="2489">std::unique_ptr&lt; asio</text><text class="t c" x="2651" y="2506">::ip::tcp::acceptor &gt;</text><text class="t" x="2596" y="2526">+</text><text class="t" x="2618" y="2526">ptr</text><text class="t" x="2596" y="2548">+</text><text class="t" x="2618" y="2548">operator-&gt;()</text></g>
<g id="atomic_u64"><rect class="bx" x="3043" y="2480" width="172" height="63"/><line class="sp" x1="3043" y1="2501" x2="3215" y2="2501"/><line class="sp" x1="3043" y1="2523" x2="3215" y2="2523"/><text class="t c" x="3129" y="2497">std::atomic&lt; uint64_t &gt;</text><text class="t" x="3086" y="2517">+</text><text class="t" x="3128" y="2517">ptr</text></g>
<g id="basic_string_view"><rect class="bx" x="3223" y="2360" width="159" height="78"/><line class="sp" x1="3223" y1="2398" x2="3382" y2="2398"/><line class="sp" x1="3223" y1="2418" x2="3382" y2="2418"/><text class="t c" x="3302.5" y="2377">std::basic_string_view</text><text class="t c" x="3302.5" y="2394">&lt; Char &gt;</text></g>
<g id="string_view"><rect class="bx" x="3244" y="2597" width="117" height="61"/><line class="sp" x1="3244" y1="2618" x2="3361" y2="2618"/><line class="sp" x1="3244" y1="2638" x2="3361" y2="2638"/><text class="t c" x="3302.5" y="2614">std::string_view</text></g>
<g id="http2_server"><rect class="mb" x="2093" y="2748" width="213" height="580"/><line class="sp" x1="2093" y1="2786" x2="2306" y2="2786"/><line class="sp" x1="2093" y1="2908" x2="2306" y2="2908"/><text class="t c" x="2199.5" y="2765">kcenon::network::protocols</text><text class="t c" x="2199.5" y="2782">::http2::http2_server</text>
<text class="t" x="2103" y="2802">-</text><text class="t" x="2116" y="2802">io_future_</text><text class="t" x="2103" y="2822">-</text><text class="t" x="2116" y="2822">stop_promise_</text><text class="t" x="2103" y="2842">-</text><text class="t" x="2116" y="2842">stop_future_</text><text class="t" x="2103" y="2862">-</text><text class="t" x="2116" y="2862">request_handler_</text><text class="t" x="2103" y="2882">-</text><text class="t" x="2116" y="2882">error_handler_</text><text class="t" x="2103" y="2902">-</text><text class="t" x="2116" y="2902">FRAME_HEADER_SIZE</text>
<text class="t" x="2103" y="2923">+</text><text class="t" x="2116" y="2923">http2_server()</text><text class="t" x="2103" y="2942">+</text><text class="t" x="2116" y="2942">~http2_server()</text><text class="t" x="2103" y="2961">+</text><text class="t" x="2116" y="2961">http2_server()</text><text class="t" x="2103" y="2980">+</text><text class="t" x="2116" y="2980">operator=()</text><text class="t" x="2103" y="2999">+</text><text class="t" x="2116" y="2999">http2_server()</text><text class="t" x="2103" y="3018">+</text><text class="t" x="2116" y="3018">operator=()</text><text class="t" x="2103" y="3037">+</text><text class="t" x="2116" y="3037">start()</text><text class="t" x="2103" y="3056">+</text><text class="t" x="2116" y="3056">start_tls()</text><text class="t" x="2103" y="3075">+</text><text class="t" x="2116" y="3075">stop()</text><text class="t" x="2103" y="3094">+</text><text class="t" x="2116" y="3094">is_running()</text><text class="t" x="2116" y="3113">and 8 more...</text><text class="t" x="2103" y="3132">-</text><text class="t" x="2116" y="3132">do_accept()</text><text class="t" x="2103" y="3151">-</text><text class="t" x="2116" y="3151">do_accept_tls()</text><text class="t" x="2103" y="3170">-</text><text class="t" x="2116" y="3170">handle_accept()</text><text class="t" x="2103" y="3189">-</text><text class="t" x="2116" y="3189">handle_accept_tls()</text><text class="t" x="2103" y="3208">-</text><text class="t" x="2116" y="3208">add_connection()</text><text class="t" x="2103" y="3227">-</text><text class="t" x="2116" y="3227">remove_connection()</text><text class="t" x="2103" y="3246">-</text><text class="t" x="2116" y="3246">cleanup_dead_connections()</text><text class="t" x="2103" y="3265">-</text><text class="t" x="2116" y="3265">start_cleanup_timer()</text><text class="t" x="2103" y="3284">-</text><text class="t" x="2116" y="3284">run_io()</text><text class="t" x="2103" y="3303">-</text><text class="t" x="2116" y="3303">stop_io()</text></g>
</svg>
